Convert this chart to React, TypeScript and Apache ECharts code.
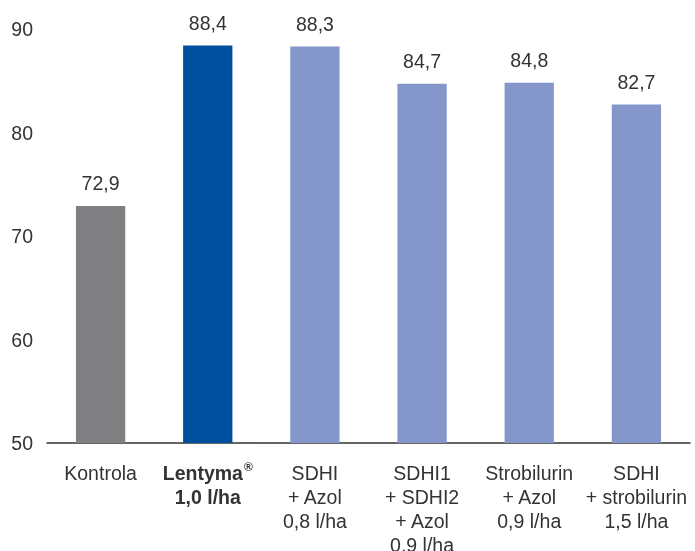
import React, { useEffect, useRef } from "react";
import * as echarts from "echarts";

const categories = [
  "Kontrola",
  "{b|Lentyma}{sup|®}\n{b|1,0 l/ha}",
  "SDHI\n+ Azol\n0,8 l/ha",
  "SDHI1\n+ SDHI2\n+ Azol\n0,9 l/ha",
  "Strobilurin\n+ Azol\n0,9 l/ha",
  "SDHI\n+ strobilurin\n1,5 l/ha",
];
const values = [72.9, 88.4, 88.3, 84.7, 84.8, 82.7];
const barColors = ["#808083", "#0050A0", "#8496CA", "#8496CA", "#8496CA", "#8496CA"];
const yTicks = [50, 60, 70, 80, 90];

const FONT = "'Liberation Sans', Arial, Helvetica, sans-serif";
const TEXT = "#333333";

export default function App() {
  const ref = useRef<HTMLDivElement>(null);
  useEffect(() => {
    if (!ref.current) return;
    const chart = echarts.init(ref.current, undefined, { renderer: "svg" });
    chart.setOption({
      animation: false,
      grid: { left: 47, right: 5, top: 29, bottom: 108, containLabel: false, outerBoundsMode: "none" },
      xAxis: {
        type: "category",
        data: categories,
        axisLine: { show: true, lineStyle: { color: "#333333", width: 1.5 } },
        axisTick: { show: false },
        axisLabel: {
          interval: 0,
          color: TEXT,
          fontFamily: FONT,
          fontSize: 19.5,
          lineHeight: 24,
          margin: 18,
          rich: {
            b: { fontWeight: "bold", fontSize: 19.5, lineHeight: 24, color: TEXT, fontFamily: FONT },
            sup: { fontWeight: "bold", fontSize: 12, lineHeight: 24, verticalAlign: "top", color: TEXT, fontFamily: FONT, padding: [0, 0, 8, 1] },
          },
        },
      },
      yAxis: {
        type: "value",
        min: yTicks[0],
        max: yTicks[yTicks.length - 1],
        interval: 10,
        axisLine: { show: false },
        axisTick: { show: false },
        splitLine: { show: false },
        axisLabel: {
          color: TEXT,
          fontFamily: FONT,
          fontSize: 19.5,
          margin: 14,
        },
      },
      series: [
        {
          type: "bar",
          data: values.map((v, i) => ({ value: v, itemStyle: { color: barColors[i] } })),
          barWidth: "46%",
          label: {
            show: true,
            position: "top",
            distance: 13,
            color: TEXT,
            fontFamily: FONT,
            fontSize: 19.5,
            formatter: (p: any) => String(p.value).replace(".", ","),
          },
        },
      ],
    });
    return () => chart.dispose();
  }, []);
  return <div ref={ref} style={{ position: "fixed", left: 0, top: 0, width: 695, height: 551 }} />;
}
